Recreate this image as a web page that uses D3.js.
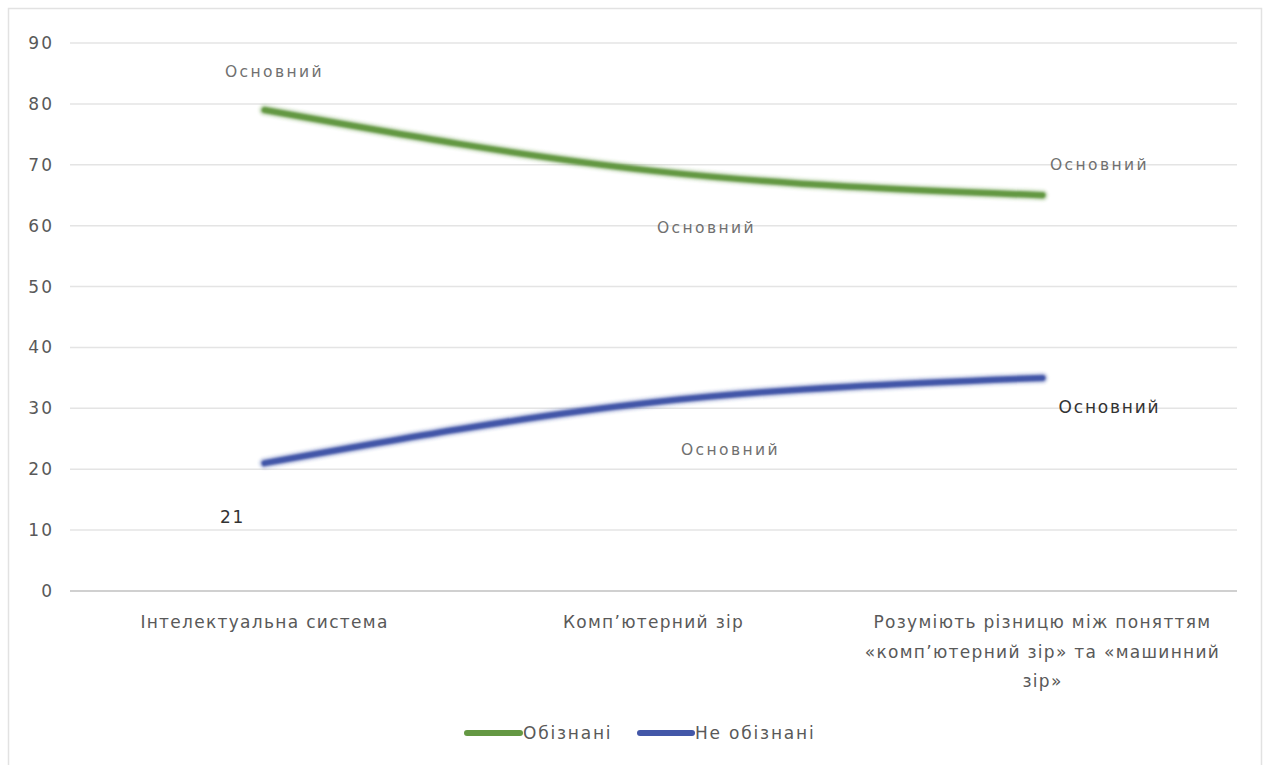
<!DOCTYPE html>
<html><head><meta charset="utf-8">
<script src="https://cdn.jsdelivr.net/npm/d3@7"></script>
<style>
html,body{margin:0;padding:0;background:#fff;}
svg{display:block;font-family:"DejaVu Sans","Noto Sans",sans-serif;}
</style></head>
<body><svg id="c" width="1270" height="765"></svg>
<script>
const categories = [
  ["Інтелектуальна система"],
  ["Комп’ютерний зір"],
  ["Розуміють різницю між поняттям", "«комп’ютерний зір» та «машинний", "зір»"]
];
const seriesNames = ["Обізнані", "Не обізнані"];
const aware = [79, 69, 65];
const notAware = [21, 31, 35];
const yTicks = [0, 10, 20, 30, 40, 50, 60, 70, 80, 90];
const awareLabels = ["Основний", "Основний", "Основний"];
const notAwareLabels = ["21", "Основний", "Основний"];
const colors = ["#649843", "#4357a8"];

const svg = d3.select("#c");
// frame
svg.append("rect").attr("x", 8.5).attr("y", 8.5).attr("width", 1253).attr("height", 770)
  .attr("fill", "none").attr("stroke", "#e2e2e2").attr("stroke-width", 1.5);

const x = d3.scaleBand().domain(d3.range(categories.length)).range([70, 1237]);
const y = d3.scaleLinear().domain([0, 90]).range([591, 43]);

// gridlines
svg.append("g").selectAll("line").data(yTicks).join("line")
  .attr("x1", 70).attr("x2", 1237)
  .attr("y1", d => y(d)).attr("y2", d => y(d))
  .attr("stroke", d => d === 0 ? "#d0d0d0" : "#e4e4e4").attr("stroke-width", d => d === 0 ? 2 : 1.5);

// y tick labels
const yAxis = d3.axisLeft(y).tickValues(yTicks).tickSize(0).tickPadding(0);
const gy = svg.append("g").attr("transform", "translate(54,0)").call(yAxis);
gy.select(".domain").remove();
gy.selectAll("text").attr("font-size", 17).attr("fill", "#595959")
  .attr("letter-spacing", 2)
  .attr("font-family", "\"DejaVu Sans\",sans-serif");

// category labels
const cx = i => x(i) + x.bandwidth() / 2;
const catG = svg.append("g");
categories.forEach((lines, i) => {
  const t = catG.append("text").attr("x", cx(i)).attr("y", 628)
    .attr("text-anchor", "middle").attr("font-size", 17).attr("fill", "#595959")
    .attr("letter-spacing", 1.3);
  lines.forEach((l, j) => t.append("tspan").attr("x", cx(i)).attr("dy", j === 0 ? 0 : 29.5).text(l));
});

// glow filter
const defs = svg.append("defs");
const f = defs.append("filter").attr("id", "glow").attr("x", "-10%").attr("y", "-50%").attr("width", "120%").attr("height", "200%");
f.append("feGaussianBlur").attr("in", "SourceGraphic").attr("stdDeviation", 1.2);

const line = d3.line().x((d, i) => cx(i)).y(d => y(d)).curve(d3.curveMonotoneX);
[aware, notAware].forEach((vals, k) => {
  svg.append("path").datum(vals).attr("d", line).attr("fill", "none")
    .attr("stroke", colors[k]).attr("stroke-opacity", 0.2).attr("stroke-width", 12)
    .attr("stroke-linecap", "round").attr("filter", "url(#glow)");
  svg.append("path").datum(vals).attr("d", line).attr("fill", "none")
    .attr("stroke", colors[k]).attr("stroke-width", 6.5)
    .attr("stroke-linecap", "round").attr("filter", "url(#glow)");
});

// data labels (positions relative to points)
const awareOff = [[10, -33], [53, 62], [57, -25]];
const notOff = [[-32, 60], [77, 53], [67, 35]];
awareLabels.forEach((t, i) => {
  svg.append("text").attr("x", cx(i) + awareOff[i][0]).attr("y", y(aware[i]) + awareOff[i][1])
    .attr("text-anchor", "middle").attr("font-size", 15.5).attr("fill", "#707070")
    .attr("letter-spacing", 2.4).text(t);
});
notAwareLabels.forEach((t, i) => {
  const dark = i !== 1;
  svg.append("text").attr("x", cx(i) + notOff[i][0]).attr("y", y(notAware[i]) + notOff[i][1])
    .attr("text-anchor", "middle").attr("font-size", dark ? 17 : 15.5)
    .attr("fill", dark ? "#333" : "#707070")
    .attr("letter-spacing", dark ? 1.8 : 2.4).text(t);
});

// legend
const leg = svg.append("g");
const legItems = [{x: 467, w: 53}, {x: 640, w: 52}];
seriesNames.forEach((n, k) => {
  leg.append("line").attr("x1", legItems[k].x).attr("x2", legItems[k].x + legItems[k].w)
    .attr("y1", 733).attr("y2", 733).attr("stroke", colors[k]).attr("stroke-width", 6).attr("stroke-linecap", "round");
  leg.append("text").attr("x", legItems[k].x + legItems[k].w + 3).attr("y", 739)
    .attr("font-size", 17).attr("fill", "#595959").attr("letter-spacing", 1.8).text(n);
});
</script></body></html>
